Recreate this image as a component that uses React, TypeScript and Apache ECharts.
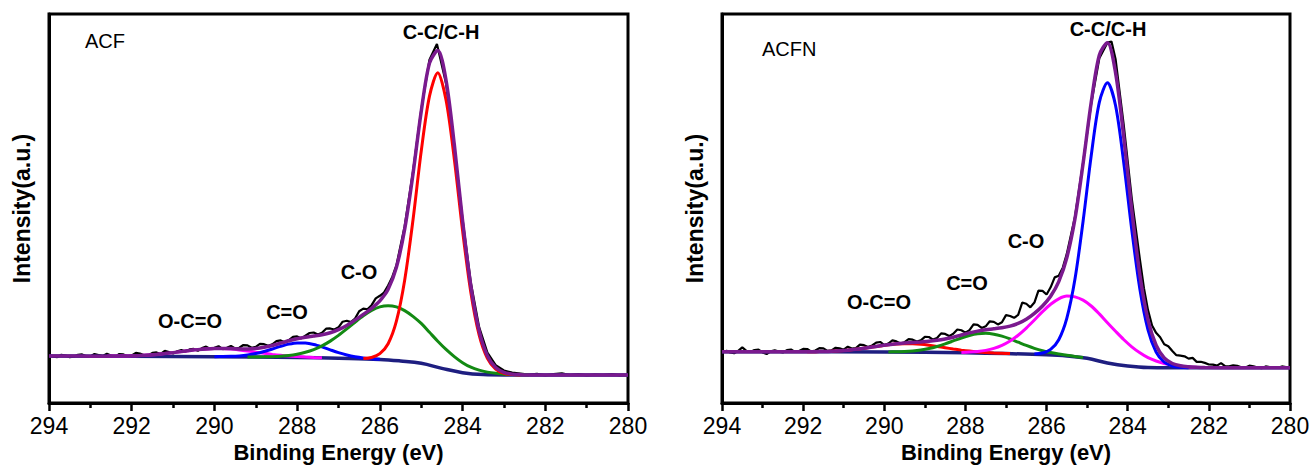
import React, { useEffect, useRef } from "react";
import * as echarts from "echarts";

const FONT = '"Liberation Sans", Arial, Helvetica, sans-serif';

// ---------- ACF (left panel) : [binding energy (eV), intensity (a.u.)] ----------
const acfBackground = [
  [294, 12.1], [292, 12.0], [290, 11.9], [288, 11.7], [287, 11.5], [286, 11.2],
  [285.5, 10.8], [285, 10.2], [284.5, 8.9], [284, 7.8], [283.5, 7.3], [283, 7.2], [280, 7.2],
];
const acfCC = [
  [286.4, 11.43], [286.2, 11.71], [286.0, 12.69], [285.8, 15.24], [285.6, 21.03], [285.4, 31.58],
  [285.2, 46.94], [285.0, 64.7], [284.8, 78.88], [284.6, 84.9], [284.4, 77.88], [284.2, 62.74],
  [284.0, 44.3], [283.8, 28.4], [283.6, 17.51], [283.4, 11.48], [283.2, 8.73], [283.0, 7.65],
  [282.8, 7.31], [282.6, 7.22],
];
const acfCO = [
  [289.2, 11.85], [289.0, 11.84], [288.8, 11.86], [288.6, 11.92], [288.4, 12.03], [288.2, 12.22],
  [288.0, 12.55], [287.8, 13.03], [287.6, 13.72], [287.4, 14.68], [287.2, 15.91], [287.0, 17.39],
  [286.8, 19.04], [286.6, 20.76], [286.4, 22.4], [286.2, 23.78], [286.0, 24.72], [285.8, 25.02],
  [285.6, 24.71], [285.4, 23.76], [285.2, 22.28], [285.0, 20.45], [284.8, 18.17], [284.6, 15.89],
  [284.4, 13.78], [284.2, 11.94], [284.0, 10.37], [283.8, 9.2], [283.6, 8.44], [283.4, 7.94],
  [283.2, 7.62], [283.0, 7.41], [282.8, 7.31], [282.6, 7.26], [282.4, 7.23],
];
const acfCdO = [
  [290.0, 11.92], [289.8, 11.94], [289.6, 11.99], [289.4, 12.11], [289.2, 12.34], [289.0, 12.71],
  [288.8, 13.24], [288.6, 13.89], [288.4, 14.57], [288.2, 15.14], [288.0, 15.45], [287.8, 15.41],
  [287.6, 15.04], [287.4, 14.41], [287.2, 13.67], [287.0, 12.96], [286.8, 12.35], [286.6, 11.89],
  [286.4, 11.58], [286.2, 11.38], [286.0, 11.25],
];
const acfOCdO = [
  [292.6, 12.05], [292.4, 12.06], [292.2, 12.09], [292.0, 12.14], [291.8, 12.22], [291.6, 12.33],
  [291.4, 12.49], [291.2, 12.7], [291.0, 12.95], [290.8, 13.21], [290.6, 13.48], [290.4, 13.72],
  [290.2, 13.9], [290.0, 13.99], [289.8, 13.98], [289.6, 13.86], [289.4, 13.65], [289.2, 13.38],
  [289.0, 13.07], [288.8, 12.78], [288.6, 12.5], [288.4, 12.26], [288.2, 12.07], [288.0, 11.93],
  [287.8, 11.8], [287.6, 11.7], [287.4, 11.62],
];
const acfEnvelope = [
  [294, 12.1], [293.5, 12.08], [293, 12.05], [292.6, 12.05], [292.4, 12.06], [292.2, 12.09],
  [292.0, 12.14], [291.8, 12.22], [291.6, 12.33], [291.4, 12.49], [291.2, 12.7], [291.0, 12.95],
  [290.8, 13.21], [290.6, 13.48], [290.4, 13.72], [290.2, 13.9], [290.0, 14.01], [289.8, 14.03],
  [289.6, 13.98], [289.4, 13.91], [289.2, 13.91], [289.0, 14.02], [288.8, 14.32], [288.6, 14.79],
  [288.4, 15.38], [288.2, 15.99], [288.0, 16.53], [287.8, 16.92], [287.6, 17.22], [287.4, 17.55],
  [287.2, 18.06], [287.0, 18.85], [286.8, 19.95], [286.6, 21.3], [286.4, 22.77], [286.2, 24.35],
  [286.0, 26.26], [285.8, 29.22], [285.6, 34.86], [285.4, 44.66], [285.2, 58.78], [285.0, 74.95],
  [284.8, 87.37], [284.6, 90.6], [284.4, 82.98], [284.2, 66.44], [284.0, 46.87], [283.8, 30.1],
  [283.6, 18.59], [283.4, 12.14], [283.2, 9.11], [283.0, 7.86], [282.8, 7.42], [282.6, 7.29],
  [282.4, 7.23], [282.0, 7.2], [281.0, 7.2], [280.0, 7.2],
];
const acfRaw = [
  [294.0, 12.3], [293.9, 11.9], [293.8, 11.8], [293.7, 12.4], [293.6, 12.2], [293.5, 11.8],
  [293.4, 11.9], [293.3, 12.4], [293.2, 12.5], [293.1, 12.0], [293.0, 11.95], [292.9, 12.6],
  [292.8, 12.35], [292.7, 12.1], [292.6, 12.65], [292.5, 12.2], [292.4, 11.86], [292.3, 12.6],
  [292.2, 12.5], [292.1, 12.0], [292.0, 12.24], [291.9, 12.9], [291.8, 12.72], [291.7, 12.3],
  [291.6, 12.23], [291.5, 12.9], [291.4, 13.0], [291.3, 12.6], [291.2, 13.4], [291.1, 13.1],
  [291.0, 12.75], [290.9, 13.3], [290.8, 13.6], [290.7, 13.2], [290.6, 13.78], [290.5, 13.9],
  [290.4, 13.42], [290.3, 14.1], [290.2, 14.5], [290.1, 13.9], [290.0, 14.21], [289.9, 14.6],
  [289.8, 13.83], [289.7, 14.2], [289.6, 14.68], [289.5, 14.0], [289.4, 14.21], [289.3, 14.9],
  [289.2, 14.81], [289.1, 14.2], [289.0, 14.42], [288.9, 15.2], [288.8, 15.12], [288.7, 14.7],
  [288.6, 15.09], [288.5, 15.9], [288.4, 16.08], [288.3, 15.6], [288.2, 16.19], [288.1, 17.0],
  [288.0, 17.13], [287.9, 16.6], [287.8, 17.32], [287.7, 18.0], [287.6, 18.12], [287.5, 17.6],
  [287.4, 18.05], [287.3, 19.1], [287.2, 19.16], [287.1, 18.9], [287.0, 19.45], [286.9, 20.9],
  [286.8, 21.15], [286.7, 20.8], [286.6, 21.7], [286.5, 23.6], [286.4, 24.27], [286.3, 24.1],
  [286.2, 25.15], [286.1, 26.9], [286.0, 27.56], [285.9, 28.4], [285.8, 30.22], [285.7, 32.4],
  [285.6, 35.36], [285.4, 45.46], [285.2, 59.38], [285.0, 75.35], [284.8, 88.27], [284.62, 92.3],
  [284.4, 82.18], [284.2, 65.54], [284.0, 47.17], [283.8, 30.9], [283.6, 19.49], [283.4, 12.94],
  [283.2, 9.71], [283.0, 8.36], [282.8, 7.82], [282.6, 7.59], [282.4, 7.33], [282.2, 7.5],
  [282.0, 7.1], [281.8, 7.4], [281.6, 7.6], [281.4, 7.2], [281.2, 7.4], [281.0, 7.1],
  [280.8, 7.3], [280.6, 7.2], [280.4, 7.4], [280.2, 7.1], [280.0, 7.2],
];

// ---------- ACFN (right panel) ----------
const acfnBackground = [
  [294, 13.2], [290, 13.1], [288, 12.9], [287, 12.7], [286, 12.4], [285.5, 12.1],
  [285, 11.5], [284.5, 10.3], [284, 9.5], [283.5, 9.1], [283, 9.05], [280, 9.05],
];
const acfnCC = [
  [286.3, 12.6], [286.1, 12.86], [285.9, 13.77], [285.7, 16.26], [285.5, 21.82], [285.3, 31.86],
  [285.1, 46.72], [284.9, 63.56], [284.7, 77.28], [284.5, 82.3], [284.3, 76.48], [284.1, 61.96],
  [283.9, 44.52], [283.7, 29.26], [283.5, 18.82], [283.3, 13.12], [283.1, 10.49], [282.9, 9.48],
  [282.7, 9.16], [282.5, 9.07],
];
const acfnCO = [
  [288.1, 13.01], [287.9, 13.09], [287.7, 13.24], [287.5, 13.53], [287.3, 14.03], [287.1, 14.82],
  [286.9, 15.94], [286.7, 17.42], [286.5, 19.26], [286.3, 21.34], [286.1, 23.47], [285.9, 25.38],
  [285.7, 26.79], [285.5, 27.49], [285.3, 27.28], [285.1, 26.44], [284.9, 24.94], [284.7, 22.91],
  [284.5, 20.64], [284.3, 18.44], [284.1, 16.32], [283.9, 14.45], [283.7, 12.92], [283.5, 11.65],
  [283.3, 10.79], [283.1, 10.16], [282.9, 9.73], [282.7, 9.45], [282.5, 9.28], [282.3, 9.18],
];
const acfnCdO = [
  [289.9, 13.14], [289.7, 13.17], [289.5, 13.24], [289.3, 13.39], [289.1, 13.64], [288.9, 14.01],
  [288.7, 14.54], [288.5, 15.2], [288.3, 15.95], [288.1, 16.71], [287.9, 17.35], [287.7, 17.78],
  [287.5, 17.9], [287.3, 17.7], [287.1, 17.19], [286.9, 16.47], [286.7, 15.63], [286.5, 14.8],
  [286.3, 14.06], [286.1, 13.45], [285.9, 12.97], [285.7, 12.58], [285.5, 12.29], [285.3, 11.96],
  [285.1, 11.67],
];
const acfnOCdO = [
  [291.9, 13.18], [291.7, 13.2], [291.5, 13.24], [291.3, 13.31], [291.1, 13.43], [290.9, 13.58],
  [290.7, 13.8], [290.5, 14.06], [290.3, 14.37], [290.1, 14.67], [289.9, 14.94], [289.7, 15.14],
  [289.5, 15.23], [289.3, 15.21], [289.1, 15.08], [288.9, 14.84], [288.7, 14.54], [288.5, 14.21],
  [288.3, 13.88], [288.1, 13.59], [287.9, 13.34], [287.7, 13.14], [287.5, 12.98], [287.3, 12.86],
  [287.1, 12.78], [286.9, 12.7],
];
const acfnEnvelope = [
  [294, 13.2], [293, 13.18], [292.1, 13.16], [291.9, 13.18], [291.7, 13.2], [291.5, 13.24],
  [291.3, 13.31], [291.1, 13.43], [290.9, 13.58], [290.7, 13.8], [290.5, 14.06], [290.3, 14.38],
  [290.1, 14.69], [289.9, 14.99], [289.7, 15.24], [289.5, 15.42], [289.3, 15.57], [289.1, 15.71],
  [288.9, 15.86], [288.7, 16.11], [288.5, 16.46], [288.3, 16.9], [288.1, 17.49], [287.9, 18.02],
  [287.7, 18.48], [287.5, 18.81], [287.3, 19.07], [287.1, 19.35], [286.9, 19.77], [286.7, 20.44],
  [286.5, 21.51], [286.3, 23.02], [286.1, 24.92], [285.9, 27.44], [285.7, 31.19], [285.5, 37.4],
  [285.3, 47.38], [285.1, 61.59], [284.9, 77.24], [284.7, 89.41], [284.5, 92.64], [284.3, 84.94],
  [284.1, 68.62], [283.9, 49.55], [283.7, 32.92], [283.5, 21.37], [283.3, 14.83], [283.1, 11.59],
  [282.9, 10.16], [282.7, 9.56], [282.5, 9.31], [282.3, 9.18], [282.1, 9.12], [281.0, 9.05],
  [280.0, 9.05],
];
const acfnRaw = [
  [293.9, 13.5], [293.8, 13.0], [293.7, 12.8], [293.6, 13.4], [293.5, 14.3], [293.4, 13.4],
  [293.3, 13.1], [293.2, 13.6], [293.1, 13.7], [293.0, 13.0], [292.9, 12.6], [292.8, 13.3],
  [292.7, 13.57], [292.6, 13.2], [292.5, 12.97], [292.4, 13.6], [292.3, 13.76], [292.2, 13.1],
  [292.1, 13.36], [292.0, 13.9], [291.9, 13.88], [291.8, 13.2], [291.7, 13.5], [291.6, 14.1],
  [291.5, 14.04], [291.4, 13.4], [291.3, 13.51], [291.2, 14.2], [291.1, 14.03], [291.0, 13.7],
  [290.9, 14.48], [290.8, 14.0], [290.7, 14.1], [290.6, 15.0], [290.5, 14.86], [290.4, 14.4],
  [290.3, 14.78], [290.2, 15.5], [290.1, 15.69], [290.0, 14.9], [289.9, 15.29], [289.8, 16.1],
  [289.7, 15.84], [289.6, 15.3], [289.5, 15.62], [289.4, 16.4], [289.3, 16.27], [289.2, 15.8],
  [289.1, 16.11], [289.0, 17.0], [288.9, 16.96], [288.8, 16.3], [288.7, 16.71], [288.6, 17.9],
  [288.5, 17.76], [288.4, 17.2], [288.3, 17.8], [288.2, 18.9], [288.1, 18.69], [288.0, 18.1],
  [287.9, 18.72], [287.8, 20.2], [287.7, 20.08], [287.6, 19.3], [287.5, 19.71], [287.4, 21.0],
  [287.3, 20.87], [287.2, 20.2], [287.1, 20.75], [287.0, 22.6], [286.9, 22.37], [286.8, 21.9],
  [286.7, 22.64], [286.6, 25.8], [286.5, 25.51], [286.4, 24.6], [286.3, 25.82], [286.2, 28.9],
  [286.1, 28.82], [286.0, 27.9], [285.9, 29.74], [285.8, 32.3], [285.7, 32.69], [285.6, 34.8],
  [285.5, 38.4], [285.3, 47.88], [285.1, 61.79], [284.9, 76.94], [284.7, 88.61], [284.5, 92.64],
  [284.4, 92.9], [284.3, 88.44], [284.1, 71.62], [283.9, 52.55], [283.7, 36.92], [283.6, 29.5],
  [283.5, 23.87], [283.4, 19.9], [283.3, 18.03], [283.2, 16.9], [283.1, 15.09], [283.0, 14.6],
  [282.9, 13.36], [282.8, 12.3], [282.7, 12.16], [282.6, 12.0], [282.5, 11.41], [282.4, 11.6],
  [282.3, 10.58], [282.2, 10.6], [282.1, 10.32], [282.0, 9.9], [281.9, 9.88], [281.8, 9.6],
  [281.7, 10.26], [281.6, 9.5], [281.5, 9.45], [281.4, 9.7], [281.3, 9.55], [281.2, 9.2],
  [281.1, 9.15], [281.0, 9.6], [280.9, 9.45], [280.8, 9.1], [280.7, 8.95], [280.6, 9.4],
  [280.5, 9.25], [280.4, 9.0], [280.3, 9.05], [280.2, 9.4], [280.1, 9.25], [280.0, 9.1],
];

const X_TICKS = { min: 280, max: 294, interval: 2 };

const COLORS = {
  raw: "#000000",
  envelope: "#7a1a8e",
  background: "#1e1e80",
  red: "#ff0000",
  green: "#138a13",
  blue: "#0000ff",
  magenta: "#ff00ff",
};

function line(data: number[][], idx: number, color: string, width: number, smooth: number | boolean = 0.3, z = 2) {
  return {
    type: "line",
    xAxisIndex: idx,
    yAxisIndex: idx,
    data,
    showSymbol: false,
    symbol: "none",
    smooth,
    z,
    lineStyle: { color, width },
    silent: true,
  };
}

export default function App() {
  const ref = useRef<HTMLDivElement>(null);
  useEffect(() => {
    if (!ref.current) return;
    const chart = echarts.init(ref.current, undefined, { renderer: "svg" });
    const xAxis = [0, 1].map((i) => ({
      type: "value",
      gridIndex: i,
      min: X_TICKS.min,
      max: X_TICKS.max,
      interval: X_TICKS.interval,
      inverse: true,
      axisLine: { show: true, onZero: false, lineStyle: { color: "#000", width: 3 } },
      axisTick: { show: true, inside: false, length: 8, lineStyle: { color: "#000", width: 2.5 } },
      minorTick: { show: true, splitNumber: 2, length: 5, lineStyle: { color: "#000", width: 2.5 } },
      splitLine: { show: false },
      minorSplitLine: { show: false },
      axisLabel: { color: "#000", fontSize: 23, margin: 11, fontFamily: FONT },
      name: "Binding Energy (eV)",
      nameLocation: "middle",
      nameGap: 38,
      nameTextStyle: { fontSize: 22, fontWeight: "bold", color: "#000", fontFamily: FONT },
    }));
    const yAxis = [0, 1].map((i) => ({
      type: "value",
      gridIndex: i,
      min: 0,
      max: 100,
      axisLine: { show: true, lineStyle: { color: "#000", width: 3 } },
      axisTick: { show: false },
      axisLabel: { show: false },
      splitLine: { show: false },
      name: "Intensity(a.u.)",
      nameLocation: "middle",
      nameGap: 16,
      nameTextStyle: { fontSize: 23, fontWeight: "bold", color: "#000", fontFamily: FONT },
    }));
    const label = (text: string, x: number, y: number, bold = true, align = "center") => ({
      type: "text",
      x,
      y,
      silent: true,
      z: 100,
      style: {
        text,
        fill: "#000",
        font: `${bold ? "bold " : ""}20px ${FONT}`,
        align,
        verticalAlign: "middle",
      },
    });
    const gridBase = {
      top: 14,
      bottom: 64,
      show: true,
      borderColor: "#000",
      borderWidth: 3,
      backgroundColor: "transparent",
      containLabel: false,
      outerBoundsMode: "none",
    };
    const option = {
      animation: false,
      textStyle: { fontFamily: FONT },
      grid: [
        { ...gridBase, left: 49, right: 683 },
        { ...gridBase, left: 722, right: 21 },
      ],
      xAxis,
      yAxis,
      series: [
        line(acfRaw, 0, COLORS.raw, 2.2, false, 2),
        line(acfBackground, 0, COLORS.background, 3.5, 0.4, 3),
        line(acfOCdO, 0, COLORS.magenta, 3, 0.3, 4),
        line(acfCdO, 0, COLORS.blue, 3, 0.3, 4),
        line(acfCO, 0, COLORS.green, 3, 0.3, 4),
        line(acfCC, 0, COLORS.red, 3, 0.3, 4),
        line(acfEnvelope, 0, COLORS.envelope, 3.5, 0.3, 5),

        line(acfnRaw, 1, COLORS.raw, 2.2, false, 2),
        line(acfnBackground, 1, COLORS.background, 3.5, 0.4, 3),
        line(acfnOCdO, 1, COLORS.red, 3, 0.3, 4),
        line(acfnCdO, 1, COLORS.green, 3, 0.3, 4),
        line(acfnCO, 1, COLORS.magenta, 3, 0.3, 4),
        line(acfnCC, 1, COLORS.blue, 3, 0.3, 4),
        line(acfnEnvelope, 1, COLORS.envelope, 3.5, 0.3, 5),
      ],
      graphic: [
        label("ACF", 85, 41, false, "left"),
        label("C-C/C-H", 441, 32),
        label("C-O", 359, 272),
        label("C=O", 287, 312),
        label("O-C=O", 190, 321),
        label("ACFN", 762, 49, false, "left"),
        label("C-C/C-H", 1108, 29),
        label("C-O", 1026, 241),
        label("C=O", 967, 283),
        label("O-C=O", 879, 302),
      ],
    };
    chart.setOption(option as any);
    return () => chart.dispose();
  }, []);
  return (
    <div
      ref={ref}
      style={{ position: "fixed", left: 0, top: 0, width: 1311, height: 467, background: "#fff" }}
    />
  );
}
